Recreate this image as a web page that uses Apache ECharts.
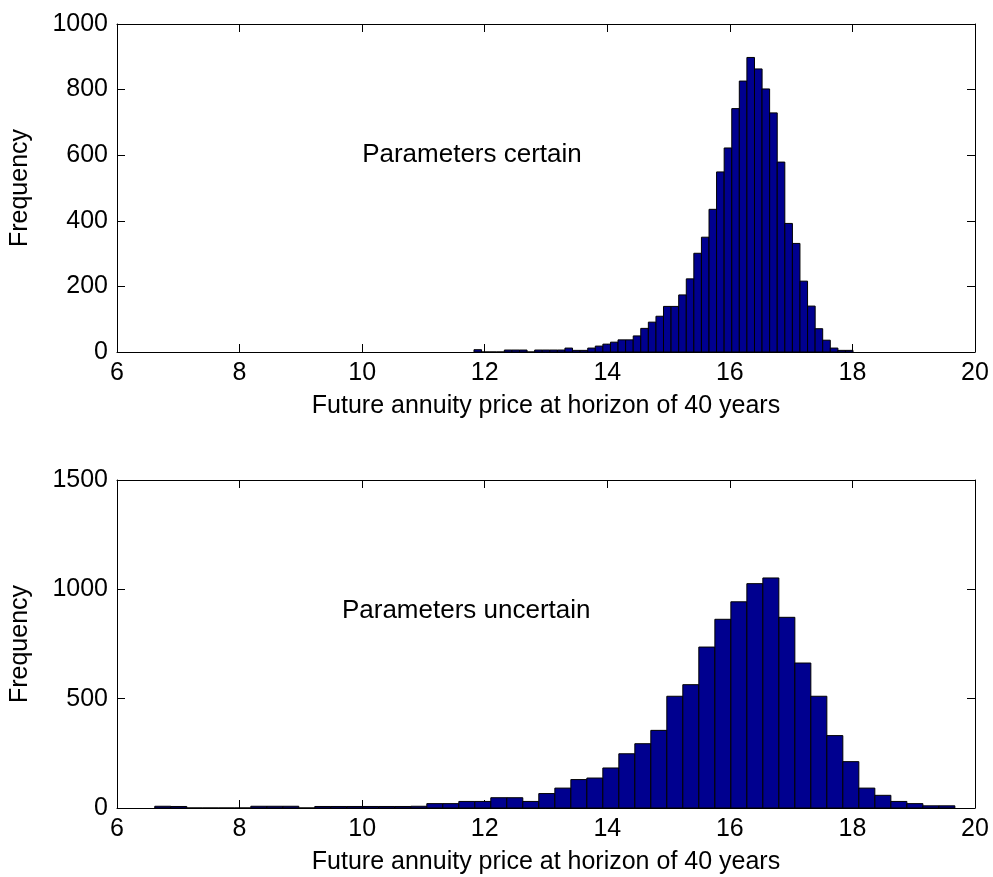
<!DOCTYPE html>
<html>
<head>
<meta charset="utf-8">
<script src="https://cdn.jsdelivr.net/npm/echarts@6/dist/echarts.min.js"></script>
<style>
  html, body { margin: 0; padding: 0; background: #fff; }
  #chart { width: 993px; height: 877px; }
</style>
</head>
<body>
<div id="chart"></div>
<script>
// Histogram of simulated annuity prices, parameters known exactly
const certainBinCenters = [
  11.887, 12.011, 12.134, 12.258, 12.382, 12.506, 12.629, 12.753, 12.877, 13.000,
  13.124, 13.248, 13.371, 13.495, 13.619, 13.743, 13.866, 13.990, 14.114, 14.237,
  14.361, 14.485, 14.608, 14.732, 14.856, 14.979, 15.103, 15.227, 15.351, 15.474,
  15.598, 15.722, 15.845, 15.969, 16.093, 16.216, 16.340, 16.464, 16.587, 16.711,
  16.835, 16.959, 17.082, 17.206, 17.330, 17.453, 17.577, 17.701, 17.824, 17.948
];
const certainCounts = [
  7, 0, 0, 0, 6, 6, 6, 0, 6, 6,
  6, 6, 12, 5, 5, 12, 18, 24, 30, 37,
  37, 49, 72, 91, 109, 139, 139, 174, 223, 301,
  350, 435, 549, 622, 742, 826, 898, 863, 802, 729,
  579, 392, 331, 216, 140, 71, 36, 12, 5, 5
];
const certainBinWidth = 0.1237;

// Histogram of simulated annuity prices, parameter uncertainty included
const uncertainBinCenters = [
  6.747, 7.008, 7.269, 7.530, 7.791, 8.052, 8.314, 8.575, 8.836, 9.097,
  9.358, 9.619, 9.880, 10.141, 10.402, 10.664, 10.925, 11.186, 11.447, 11.708,
  11.969, 12.230, 12.491, 12.752, 13.013, 13.275, 13.536, 13.797, 14.058, 14.319,
  14.580, 14.841, 15.102, 15.363, 15.624, 15.886, 16.147, 16.408, 16.669, 16.930,
  17.191, 17.452, 17.713, 17.974, 18.235, 18.497, 18.758, 19.019, 19.280, 19.541
];
const uncertainCounts = [
  8, 7, 0, 0, 0, 0, 8, 8, 8, 0,
  7, 7, 7, 7, 7, 7, 8, 20, 20, 30,
  30, 47, 47, 30, 66, 91, 130, 137, 183, 248,
  294, 355, 511, 564, 736, 863, 943, 1026, 1052, 872,
  663, 511, 331, 212, 91, 58, 30, 20, 10, 10
];
const uncertainBinWidth = 0.2611;

const xTicks = [6, 8, 10, 12, 14, 16, 18, 20];
const xTitle = 'Future annuity price at horizon of 40 years';
const yTitle = 'Frequency';
const panelNotes = [
  { text: 'Parameters certain', x: 10, y: 600 },
  { text: 'Parameters uncertain', x: 9.67, y: 900 }
];

const FONT = "'Liberation Sans', Arial, Helvetica, sans-serif";
const AXIS_FONT_SIZE = 25;
const NOTE_FONT_SIZE = 26;
const BAR_FILL = '#00008F';

function histSeries(centers, counts, width, axisIdx) {
  return {
    type: 'custom',
    xAxisIndex: axisIdx,
    yAxisIndex: axisIdx,
    clip: true,
    silent: true,
    data: centers.map((c, i) => [c, counts[i]]),
    renderItem: function (params, api) {
      const x = api.value(0);
      const y = api.value(1);
      const p0 = api.coord([x - width / 2, y]);
      const p1 = api.coord([x + width / 2, 0]);
      return {
        type: 'rect',
        shape: { x: p0[0], y: p0[1], width: p1[0] - p0[0], height: p1[1] - p0[1] },
        style: { fill: BAR_FILL, stroke: '#000', lineWidth: 1 }
      };
    }
  };
}

// In-plot annotation anchored at a data coordinate (left edge, vertically centred)
function noteSeries(note, axisIdx) {
  return {
    type: 'custom',
    xAxisIndex: axisIdx,
    yAxisIndex: axisIdx,
    silent: true,
    data: [[note.x, note.y]],
    renderItem: function (params, api) {
      const p = api.coord([api.value(0), api.value(1)]);
      return {
        type: 'text',
        x: p[0],
        y: p[1],
        style: {
          text: note.text,
          fill: '#000',
          fontSize: NOTE_FONT_SIZE,
          fontFamily: FONT,
          align: 'left',
          verticalAlign: 'middle'
        }
      };
    }
  };
}

function xAxisPair(gridIndex) {
  const base = {
    type: 'value', gridIndex: gridIndex,
    min: xTicks[0], max: xTicks[xTicks.length - 1], interval: 2,
    splitLine: { show: false },
    axisLine: { show: true, onZero: false, lineStyle: { color: '#000', width: 1 } },
    axisTick: { show: true, inside: true, length: 8, lineStyle: { color: '#000' } }
  };
  return [
    Object.assign({}, base, {
      position: 'bottom',
      name: xTitle, nameLocation: 'middle', nameGap: 42,
      nameTextStyle: { color: '#000', fontSize: AXIS_FONT_SIZE, fontFamily: FONT },
      axisLabel: { color: '#000', fontSize: AXIS_FONT_SIZE, fontFamily: FONT, margin: 9 }
    }),
    Object.assign({}, base, { position: 'top', axisLabel: { show: false } })
  ];
}

function yAxisPair(gridIndex, max, interval) {
  const base = {
    type: 'value', gridIndex: gridIndex,
    min: 0, max: max, interval: interval,
    splitLine: { show: false },
    axisLine: { show: true, onZero: false, lineStyle: { color: '#000', width: 1 } },
    axisTick: { show: true, inside: true, length: 8, lineStyle: { color: '#000' } }
  };
  return [
    Object.assign({}, base, {
      position: 'left',
      name: yTitle, nameLocation: 'middle', nameGap: 84, nameRotate: 90,
      nameTextStyle: { color: '#000', fontSize: AXIS_FONT_SIZE, fontFamily: FONT },
      axisLabel: {
        color: '#000', fontSize: AXIS_FONT_SIZE, fontFamily: FONT, margin: 9,
        formatter: function (v) { return String(v); }
      }
    }),
    Object.assign({}, base, { position: 'right', axisLabel: { show: false } })
  ];
}

const xa = xAxisPair(0).concat(xAxisPair(1));
const ya = yAxisPair(0, 1000, 200).concat(yAxisPair(1, 1500, 500));

const chart = echarts.init(document.getElementById('chart'), null, { renderer: 'canvas' });
chart.setOption({
  animation: false,
  backgroundColor: '#fff',
  grid: [
    { left: 117, top: 24, width: 858, height: 328 },
    { left: 117, top: 480, width: 858, height: 328 }
  ],
  xAxis: xa,
  yAxis: ya,
  series: [
    histSeries(certainBinCenters, certainCounts, certainBinWidth, 0),
    noteSeries(panelNotes[0], 0),
    histSeries(uncertainBinCenters, uncertainCounts, uncertainBinWidth, 2),
    noteSeries(panelNotes[1], 2)
  ]
});
</script>
</body>
</html>
